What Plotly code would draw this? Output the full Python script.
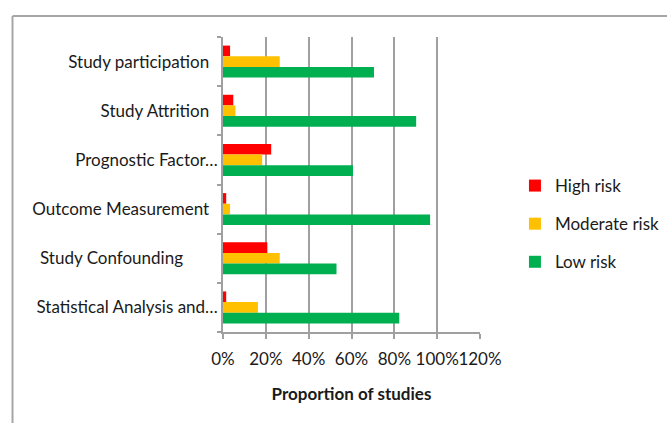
import plotly.graph_objects as go

categories = ["Study participation", "Study Attrition", "Prognostic Factor…",
              "Outcome Measurement", "Study Confounding", "Statistical Analysis and…"]
tick_labels = ["Study participation\u00a0\u00a0", "Study Attrition\u00a0\u00a0", "Prognostic Factor…",
               "Outcome Measurement\u00a0\u00a0", "Study Confounding" + "\u00a0" * 8, "Statistical Analysis and…"]
high_risk = [0.033, 0.048, 0.225, 0.015, 0.207, 0.015]
moderate_risk = [0.265, 0.058, 0.183, 0.033, 0.265, 0.163]
low_risk = [0.705, 0.902, 0.607, 0.967, 0.530, 0.823]
x_ticks = [0, 0.2, 0.4, 0.6, 0.8, 1.0, 1.2]

FONT = "Lato"
TXT = "#1a1a1a"
GRID = "#a0a0a0"

fig = go.Figure()
for name, vals, col in [("High risk", high_risk, "#FF0000"),
                        ("Moderate risk", moderate_risk, "#FFC000"),
                        ("Low risk", low_risk, "#00B050")]:
    fig.add_trace(go.Bar(y=categories, x=vals, name=name, orientation="h",
                         marker=dict(color=col, line=dict(width=0)),
                         legendgroup=name))

fig.update_layout(
    width=667, height=423,
    margin=dict(l=223, r=187, t=37, b=91, autoexpand=False),
    paper_bgcolor="white", plot_bgcolor="white",
    barmode="group", bargap=0.35, bargroupgap=0,
    font=dict(family=FONT, size=17, color=TXT),
    showlegend=True,
    legend=dict(x=1.136, xanchor="left", y=0.366, yanchor="middle",
                font=dict(family=FONT, size=17, color=TXT),
                traceorder="grouped", tracegroupgap=13,
                itemwidth=30, bgcolor="rgba(0,0,0,0)"),
    xaxis=dict(range=[0, 1.2], tickvals=x_ticks, tickformat=".0%",
               showgrid=True, gridcolor=GRID, gridwidth=1.5,
               showline=True, linecolor=GRID, linewidth=1.5,
               ticks="outside", ticklen=5, tickcolor=GRID, tickwidth=1.5,
               zeroline=False, tickangle=0, automargin=False,
               ticklabelstandoff=6,
               tickfont=dict(family=FONT, size=17, color=TXT),
               title=dict(text="<b>Proportion of studies</b>",
                          font=dict(family=FONT, size=17, color=TXT), standoff=20)),
    yaxis=dict(autorange="reversed", categoryorder="array", categoryarray=categories,
               tickmode="array", tickvals=categories, ticktext=tick_labels,
               showline=True, linecolor=GRID, linewidth=1.5,
               ticks="outside", ticklen=4, tickcolor=GRID, tickwidth=1.5,
               tickson="boundaries", showgrid=False, automargin=False,
               tickfont=dict(family=FONT, size=17, color=TXT)),
    shapes=[
        dict(type="line", xref="paper", yref="paper", x0=-0.819, x1=1.8, y0=1.0712, y1=1.0712,
             line=dict(color="#a6a6a6", width=2)),
        dict(type="line", xref="paper", yref="paper", x0=-0.819, x1=-0.819, y0=1.0712, y1=-0.4,
             line=dict(color="#a6a6a6", width=2)),
    ],
)

fig.write_html("out.html", config={"displayModeBar": False},
               post_script="document.body.style.margin='0';document.body.style.overflow='hidden';")
